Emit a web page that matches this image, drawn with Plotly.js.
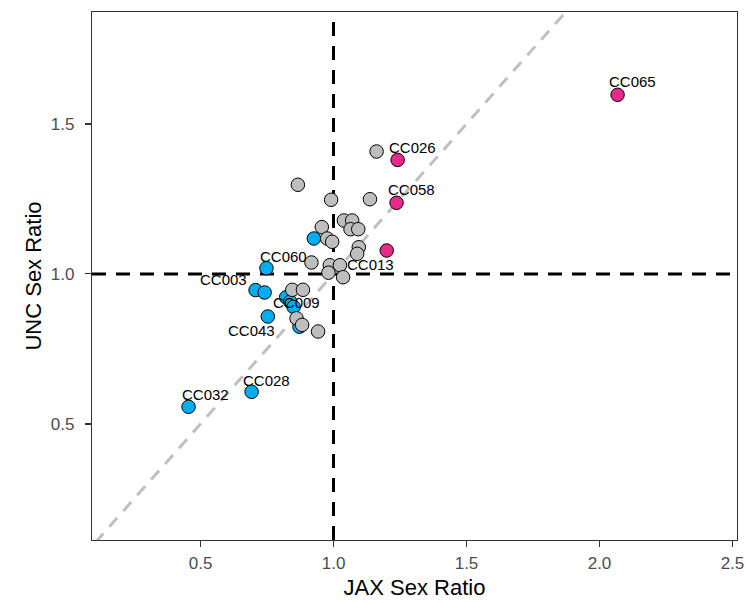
<!DOCTYPE html>
<html>
<head>
<meta charset="utf-8">
<script src="https://cdn.plot.ly/plotly-3.0.1.min.js"></script>
<style>
  html, body { margin: 0; padding: 0; background: #fff; }
  #chart { width: 746px; height: 603px; }
</style>
</head>
<body>
<div id="chart"></div>
<script>
// Strains with no notable sex-ratio shift (grey)
const greyJax = [1.162, 0.866, 0.991, 1.137, 1.039, 1.070, 1.064, 1.093, 0.956, 0.976,
                 0.995, 1.095, 1.089, 0.917, 0.986, 1.024, 0.981, 1.036, 0.845, 0.885,
                 0.861, 0.882, 0.942];
const greyUnc = [1.408, 1.297, 1.247, 1.249, 1.178, 1.178, 1.149, 1.149, 1.156, 1.118,
                 1.107, 1.089, 1.067, 1.038, 1.029, 1.029, 1.004, 0.989, 0.947, 0.947,
                 0.852, 0.830, 0.808];

// Strains with low sex ratio at both sites (blue)
const blueJax = [0.455, 0.692, 0.748, 0.707, 0.741, 0.926, 0.822, 0.837, 0.850, 0.753, 0.872];
const blueUnc = [0.557, 0.607, 1.019, 0.946, 0.938, 1.118, 0.922, 0.908, 0.890, 0.858, 0.824];

// Strains with high sex ratio at both sites (magenta)
const pinkJax = [2.068, 1.241, 1.237, 1.200];
const pinkUnc = [1.597, 1.380, 1.237, 1.078];

// Strain labels and where their text sits
const labelText = ["CC065", "CC026", "CC058", "CC013", "CC060", "CC003", "CC009", "CC043", "CC028", "CC032"];
const labelX    = [2.125, 1.298, 1.294, 1.139, 0.812, 0.587, 0.860, 0.691, 0.749, 0.517];
const labelY    = [1.641, 1.422, 1.280, 1.030, 1.058, 0.980, 0.904, 0.811, 0.644, 0.599];

const xRange = [0.092, 2.517];
const yRange = [0.113, 1.873];

const FONT = 'Liberation Sans, Arial, sans-serif';

function pointTrace(x, y, color) {
  return {
    type: 'scatter', mode: 'markers', x: x, y: y, hoverinfo: 'skip',
    marker: { size: 13.5, color: color, line: { color: '#000', width: 1 } }
  };
}

const traces = [
  pointTrace(blueJax, blueUnc, '#00AEEF'),
  pointTrace(greyJax, greyUnc, '#BEBEBE'),
  pointTrace(pinkJax, pinkUnc, '#E7298A')
];

const annotations = labelText.map((t, i) => ({
  x: labelX[i], y: labelY[i], xref: 'x', yref: 'y', text: t, showarrow: false,
  font: { family: FONT, size: 15, color: '#000' }
}));

const shapes = [
  // identity line
  { type: 'line', layer: 'below', xref: 'x', yref: 'y', x0: 0, y0: 0, x1: 2.6, y1: 2.6,
    line: { color: '#C0C0C0', width: 3, dash: '12px,9px' } },
  // reference lines at ratio 1
  { type: 'line', layer: 'below', xref: 'x', yref: 'paper', x0: 1, x1: 1, y0: 0, y1: 1,
    line: { color: '#000', width: 3, dash: '14px,10px' } },
  { type: 'line', layer: 'below', xref: 'paper', yref: 'y', x0: 0, x1: 1, y0: 1, y1: 1,
    line: { color: '#000', width: 3, dash: '14px,10px' } }
];

const axisBase = {
  showgrid: false, zeroline: false, showline: true, mirror: true,
  linecolor: '#333', linewidth: 1.2,
  ticks: 'outside', ticklen: 6, tickwidth: 1.2, tickcolor: '#333',
  tickfont: { family: FONT, size: 17, color: '#4D4D4D' },
  tickformat: '.1f'
};

const layout = {
  width: 746, height: 603,
  margin: { l: 92, r: 9, t: 12, b: 63 },
  paper_bgcolor: '#fff', plot_bgcolor: '#fff',
  showlegend: false,
  xaxis: Object.assign({}, axisBase, {
    range: xRange, tickvals: [0.5, 1.0, 1.5, 2.0, 2.5], ticklabelstandoff: 1,
    title: { text: 'JAX Sex Ratio', standoff: 8, font: { family: FONT, size: 22, color: '#000' } }
  }),
  yaxis: Object.assign({}, axisBase, {
    range: yRange, tickvals: [0.5, 1.0, 1.5], ticklabelstandoff: 7,
    title: { text: 'UNC Sex Ratio', standoff: 3, font: { family: FONT, size: 22, color: '#000' } }
  }),
  shapes: shapes,
  annotations: annotations
};

Plotly.newPlot('chart', traces, layout, { staticPlot: true, displayModeBar: false });
</script>
</body>
</html>
